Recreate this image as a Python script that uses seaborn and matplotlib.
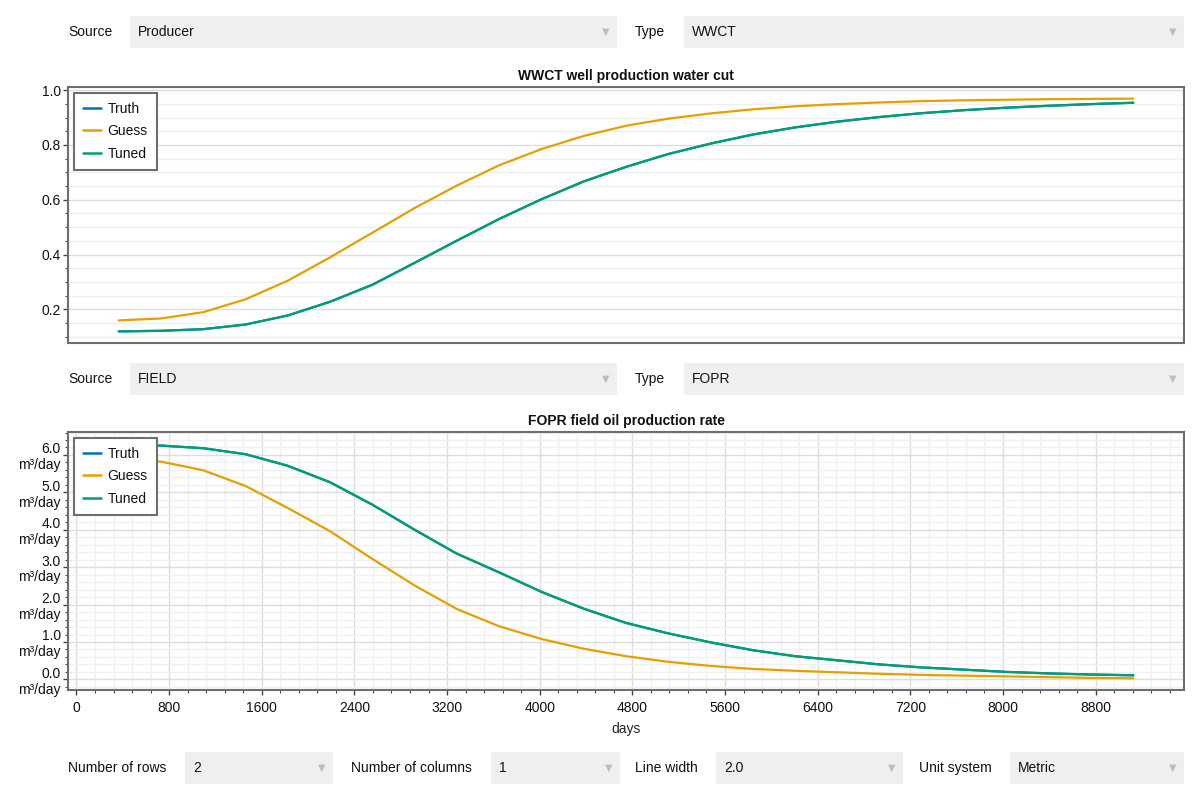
import numpy as np
import pandas as pd
import matplotlib
matplotlib.use("Agg")
import matplotlib.pyplot as plt
import seaborn as sns
from matplotlib.patches import Rectangle
from matplotlib.ticker import MultipleLocator, FuncFormatter

# ---------------- data ----------------
days = [365, 730, 1095, 1460, 1825, 2190, 2555, 2920, 3285, 3650,
        4015, 4380, 4745, 5110, 5475, 5840, 6205, 6570, 6935, 7300,
        7665, 8030, 8395, 8760, 9125]

series_names = ["Truth", "Guess", "Tuned"]
series_colors = ["#0072B2", "#E69F00", "#009E73"]

wwct_truth = [0.120, 0.122, 0.128, 0.145, 0.178, 0.228, 0.290, 0.370, 0.451, 0.530,
              0.602, 0.667, 0.720, 0.767, 0.805, 0.838, 0.864, 0.885, 0.902, 0.916,
              0.927, 0.936, 0.943, 0.949, 0.954]
wwct_guess = [0.160, 0.167, 0.190, 0.237, 0.305, 0.390, 0.480, 0.570, 0.652, 0.726,
              0.785, 0.833, 0.870, 0.896, 0.915, 0.930, 0.941, 0.949, 0.955, 0.960,
              0.963, 0.965, 0.967, 0.968, 0.969]
wwct_tuned = [0.120, 0.122, 0.128, 0.145, 0.178, 0.228, 0.290, 0.370, 0.451, 0.530,
              0.602, 0.667, 0.720, 0.767, 0.805, 0.838, 0.864, 0.885, 0.902, 0.916,
              0.927, 0.936, 0.943, 0.949, 0.954]

fopr_truth = [6.30, 6.25, 6.18, 6.02, 5.71, 5.27, 4.67, 4.00, 3.36, 2.86,
              2.34, 1.89, 1.51, 1.23, 0.99, 0.78, 0.62, 0.51, 0.40, 0.32,
              0.26, 0.20, 0.16, 0.13, 0.11]
fopr_guess = [5.92, 5.82, 5.59, 5.17, 4.58, 3.96, 3.22, 2.51, 1.88, 1.42,
              1.08, 0.82, 0.62, 0.47, 0.36, 0.28, 0.23, 0.19, 0.15, 0.12,
              0.10, 0.08, 0.06, 0.04, 0.03]
fopr_tuned = [6.30, 6.25, 6.18, 6.02, 5.71, 5.27, 4.67, 4.00, 3.36, 2.86,
              2.34, 1.89, 1.51, 1.23, 0.99, 0.78, 0.62, 0.51, 0.40, 0.32,
              0.26, 0.20, 0.16, 0.13, 0.11]

top_title = "WWCT well production water cut"
bottom_title = "FOPR field oil production rate"
x_label = "days"
unit = "m³/day"

row1_controls = [("Source", "Producer"), ("Type", "WWCT")]
row2_controls = [("Source", "FIELD"), ("Type", "FOPR")]
row3_controls = [("Number of rows", "2"), ("Number of columns", "1"),
                 ("Line width", "2.0"), ("Unit system", "Metric")]

# ---------------- style ----------------
sns.set_theme(style="white")
plt.rcParams["font.family"] = ["Liberation Sans", "DejaVu Sans"]
plt.rcParams["font.size"] = 10
plt.rcParams["axes.edgecolor"] = "#6e6e6e"
plt.rcParams["axes.linewidth"] = 1.5
plt.rcParams["text.color"] = "#111111"
plt.rcParams["xtick.bottom"] = True
plt.rcParams["ytick.left"] = True

W, H = 1200, 800
fig = plt.figure(figsize=(12, 8), dpi=100)


def fx(px):
    return px / W


def fy(py):
    return 1 - py / H


def long_df(vals):
    rows = []
    for name, v in zip(series_names, vals):
        for d, y in zip(days, v):
            rows.append({"days": d, "value": y, "series": name})
    return pd.DataFrame(rows)


palette = dict(zip(series_names, series_colors))


def style_axes(ax):
    for sp in ax.spines.values():
        sp.set_color("#6e6e6e")
        sp.set_linewidth(1.5)
    ax.tick_params(axis="both", which="major", direction="out", length=3.8,
                   width=1.0, color="#444444", labelsize=10, pad=1.5,
                   labelcolor="#111111", left=True, bottom=True)
    ax.tick_params(axis="both", which="minor", direction="out", length=2.5,
                   width=0.8, color="#444444", left=True, bottom=True)
    ax.margins(x=0.05, y=0.05)


def legend_style(ax):
    sns.move_legend(ax, "upper left", title=None, frameon=True, fancybox=False,
                    fontsize=10, borderaxespad=0.4, borderpad=0.65,
                    handlelength=1.35, handletextpad=0.45, labelspacing=0.62)
    leg = ax.get_legend()
    fr = leg.get_frame()
    fr.set_edgecolor("#6e6e6e")
    fr.set_linewidth(1.5)
    fr.set_facecolor("white")
    fr.set_alpha(1.0)
    for line in leg.get_lines():
        line.set_linewidth(1.8)


# ---------------- top axes ----------------
ax1 = fig.add_axes([fx(68), fy(343), fx(1184 - 68), (343 - 87) / H])
sns.lineplot(data=long_df([wwct_truth, wwct_guess, wwct_tuned]), x="days",
             y="value", hue="series", hue_order=series_names, palette=palette,
             linewidth=1.6, ax=ax1, legend="auto")
style_axes(ax1)
ax1.set_xlabel("")
ax1.set_ylabel("")
ax1.yaxis.set_major_locator(MultipleLocator(0.2))
ax1.yaxis.set_minor_locator(MultipleLocator(0.05))
ax1.yaxis.set_major_formatter(FuncFormatter(lambda v, p: f"{v:.1f}"))
ax1.tick_params(axis="x", which="both", bottom=False, labelbottom=False)
ax1.grid(axis="y", which="major", color="#dddddd", linewidth=1.0)
ax1.grid(axis="y", which="minor", color="#efefef", linewidth=1.0)
ax1.grid(axis="x", which="both", visible=False)
ax1.set_axisbelow(True)
ax1.set_title(top_title, fontsize=10, fontweight="bold", pad=5)
legend_style(ax1)

# ---------------- bottom axes ----------------
ax2 = fig.add_axes([fx(68), fy(690), fx(1184 - 68), (690 - 432) / H])
sns.lineplot(data=long_df([fopr_truth, fopr_guess, fopr_tuned]), x="days",
             y="value", hue="series", hue_order=series_names, palette=palette,
             linewidth=1.6, ax=ax2, legend="auto")
style_axes(ax2)
ax2.tick_params(axis="x", which="major", pad=4)
ax2.set_ylabel("")
ax2.set_xlabel(x_label, fontsize=10, labelpad=5)
ax2.xaxis.set_major_locator(MultipleLocator(800))
ax2.xaxis.set_minor_locator(MultipleLocator(160))
ax2.xaxis.set_major_formatter(FuncFormatter(lambda v, p: f"{int(round(v))}"))
ax2.yaxis.set_major_locator(MultipleLocator(1.0))
ax2.yaxis.set_minor_locator(MultipleLocator(0.2))
ax2.yaxis.set_major_formatter(FuncFormatter(lambda v, p: f"{v:.1f}\n{unit}"))
ax2.grid(which="major", color="#dddddd", linewidth=1.0)
ax2.grid(which="minor", color="#f0f0f0", linewidth=1.0)
ax2.set_axisbelow(True)
ax2.set_title(bottom_title, fontsize=10, fontweight="bold", pad=5)
legend_style(ax2)
fig.canvas.draw()
for lbl in ax2.get_yticklabels():
    lbl.set_linespacing(1.15)

# ---------------- controls ----------------
def control(label, value, lx, bx0, bx1, yc):
    fig.text(fx(lx), fy(yc), label, ha="left", va="center", fontsize=10)
    fig.patches.append(Rectangle((fx(bx0), fy(yc + 16)), fx(bx1 - bx0), 32 / H,
                                 transform=fig.transFigure, facecolor="#efefef",
                                 edgecolor="none", zorder=0))
    fig.text(fx(bx0 + 8), fy(yc), value, ha="left", va="center", fontsize=10)
    fig.text(fx(bx1 - 11), fy(yc), "▼", ha="center", va="center", fontsize=7,
             color="#bdbdbd", family=["DejaVu Sans"])


row12_geom = [(68, 130, 617), (635, 684, 1184)]
for (lab, val), (lx, b0, b1) in zip(row1_controls, row12_geom):
    control(lab, val, lx, b0, b1, 32)
for (lab, val), (lx, b0, b1) in zip(row2_controls, row12_geom):
    control(lab, val, lx, b0, b1, 379)
row3_geom = [(68, 185, 333), (351, 491, 620), (635, 716, 903), (919, 1010, 1184)]
for (lab, val), (lx, b0, b1) in zip(row3_controls, row3_geom):
    control(lab, val, lx, b0, b1, 768)

fig.savefig("out.png", dpi=100)
